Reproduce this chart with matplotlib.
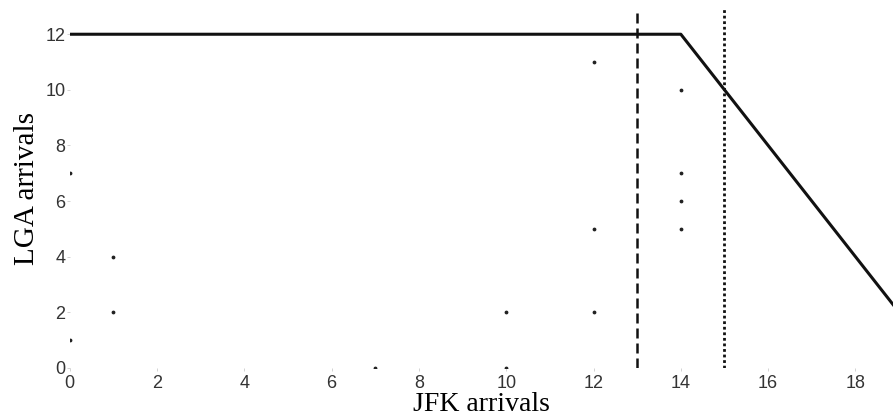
import numpy as np
import matplotlib.pyplot as plt

# frontier of feasible arrivals
frontier_x = [0, 14, 19]
frontier_y = [12, 12, 2]

# observed arrival pairs
jfk = [0, 0, 1, 1, 7, 10, 10, 12, 12, 12, 14, 14, 14, 14]
lga = [7, 1, 4, 2, 0, 2, 0, 2, 5, 11, 10, 7, 6, 5]

jfk_dashed = 13
jfk_dotted = 15

xticks = [0, 2, 4, 6, 8, 10, 12, 14, 16, 18]
yticks = [0, 2, 4, 6, 8, 10, 12]

fig = plt.figure(figsize=(8.93, 4.19), dpi=100)
ax = fig.add_axes([0.078, 0.122, 0.922, 0.856])

ax.plot(frontier_x, frontier_y, color='#111111', lw=2.2, zorder=3)
ax.axvline(jfk_dashed, color='#111111', lw=1.8, ls=(0, (4, 2)))
ax.axvline(jfk_dotted, color='#111111', lw=2.0, ls=(0, (1, 1)))
ax.scatter(jfk, lga, s=3, color='#222222', zorder=4)

ax.set_xlim(0, 18.86)
ax.set_ylim(0, 12.9)
ax.set_xticks(xticks)
ax.set_yticks(yticks)
for s in ax.spines.values():
    s.set_visible(False)
ax.tick_params(length=2, width=0.6, color='#cccccc', labelsize=13)
ax.tick_params(axis='x', pad=3)
ax.tick_params(axis='y', pad=1)
for lab in ax.get_xticklabels() + ax.get_yticklabels():
    lab.set_family('Liberation Sans')
    lab.set_color('#333333')

ax.set_xlabel('JFK arrivals', family='Liberation Serif', fontsize=20, labelpad=0)
ax.set_ylabel('LGA arrivals', family='Liberation Serif', fontsize=21, labelpad=4)

fig.savefig('out.png')
